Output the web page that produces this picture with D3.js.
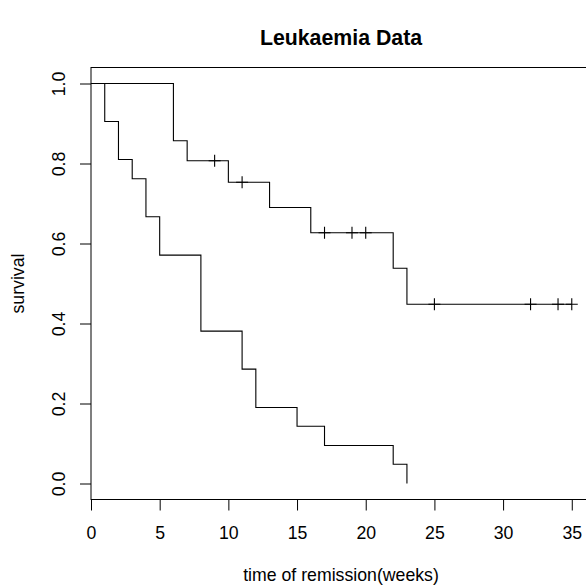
<!DOCTYPE html>
<html>
<head>
<meta charset="utf-8">
<script src="https://cdn.jsdelivr.net/npm/d3@7"></script>
<style>
  body { margin: 0; background: #fff; }
  text { font-family: "Liberation Sans", Arial, sans-serif; fill: #000; }
</style>
</head>
<body>
<div id="plot"></div>
<script>
// Kaplan-Meier steps
const treatTimes = [0, 6, 7, 10, 13, 16, 22, 23, 35];
const treatSurv  = [1, 0.857, 0.807, 0.753, 0.690, 0.627, 0.538, 0.448, 0.448];
const ctrlTimes  = [0, 1, 2, 3, 4, 5, 8, 11, 12, 15, 17, 22, 23];
const ctrlSurv   = [1, 0.905, 0.810, 0.762, 0.667, 0.571, 0.381, 0.286, 0.190, 0.143, 0.095, 0.048, 0];

// censored observations (6-MP group)
const censorTimes = [9, 11, 17, 19, 20, 25, 32, 34, 35];
const censorSurv  = [0.807, 0.753, 0.627, 0.627, 0.627, 0.448, 0.448, 0.448, 0.448];

const xTicks = [0, 5, 10, 15, 20, 25, 30, 35];
const yTicks = [0, 0.2, 0.4, 0.6, 0.8, 1.0];

const width = 586;
const height = 587;

const svg = d3.select("#plot")
  .append("svg")
  .attr("width", width)
  .attr("height", height);

// plot region (right edge runs off the canvas)
const m = { left: 91, right: 591, top: 67.5, bottom: 499.5 };

const x = d3.scaleLinear().domain([0, 36.4]).range([m.left, m.right]);
const y = d3.scaleLinear().domain([-0.04, 1.04]).range([m.bottom, m.top]);

// box
svg.append("rect")
  .attr("x", m.left).attr("y", m.top)
  .attr("width", m.right - m.left).attr("height", m.bottom - m.top)
  .attr("fill", "none").attr("stroke", "#000").attr("stroke-width", 1);

// x axis
const xAxis = svg.append("g")
  .attr("transform", `translate(0,${m.bottom})`)
  .call(d3.axisBottom(x).tickValues(xTicks).tickSize(11).tickPadding(16).tickFormat(d3.format("d")));
xAxis.select(".domain").remove();
xAxis.selectAll("text").style("font-size", "17.7px").attr("fill", "#000");

// y axis
const yAxis = svg.append("g")
  .attr("transform", `translate(${m.left},0)`)
  .call(d3.axisLeft(y).tickValues(yTicks).tickSize(11).tickFormat(d3.format(".1f")));
yAxis.select(".domain").remove();
yAxis.selectAll("text")
  .style("font-size", "17.7px")
  .attr("fill", "#000")
  .attr("x", null).attr("dy", null)
  .attr("transform", "translate(-26,0) rotate(-90)")
  .attr("text-anchor", "middle");

// step curves
const step = d3.line()
  .x(d => x(d[0]))
  .y(d => y(d[1]))
  .curve(d3.curveStepAfter);

svg.append("path")
  .datum(treatTimes.map((t, i) => [t, treatSurv[i]]))
  .attr("d", step)
  .attr("fill", "none").attr("stroke", "#000").attr("stroke-width", 1.1);

svg.append("path")
  .datum(ctrlTimes.map((t, i) => [t, ctrlSurv[i]]))
  .attr("d", step)
  .attr("fill", "none").attr("stroke", "#000").attr("stroke-width", 1.1);

// censor marks
const half = 6;
svg.append("g").selectAll("path")
  .data(censorTimes.map((t, i) => [t, censorSurv[i]]))
  .enter().append("path")
  .attr("d", d => `M${x(d[0]) - half},${y(d[1])}H${x(d[0]) + half}M${x(d[0])},${y(d[1]) - half}V${y(d[1]) + half}`)
  .attr("stroke", "#000").attr("stroke-width", 1.1);

// titles
svg.append("text")
  .attr("x", (m.left + m.right) / 2).attr("y", 45)
  .attr("text-anchor", "middle")
  .style("font-size", "21.3px").style("font-weight", "bold")
  .text("Leukaemia Data");

svg.append("text")
  .attr("x", (m.left + m.right) / 2).attr("y", 581)
  .attr("text-anchor", "middle")
  .style("font-size", "17.7px")
  .text("time of remission(weeks)");

svg.append("text")
  .attr("transform", `translate(24,${(m.top + m.bottom) / 2}) rotate(-90)`)
  .attr("text-anchor", "middle")
  .style("font-size", "17.7px")
  .text("survival");
</script>
</body>
</html>
